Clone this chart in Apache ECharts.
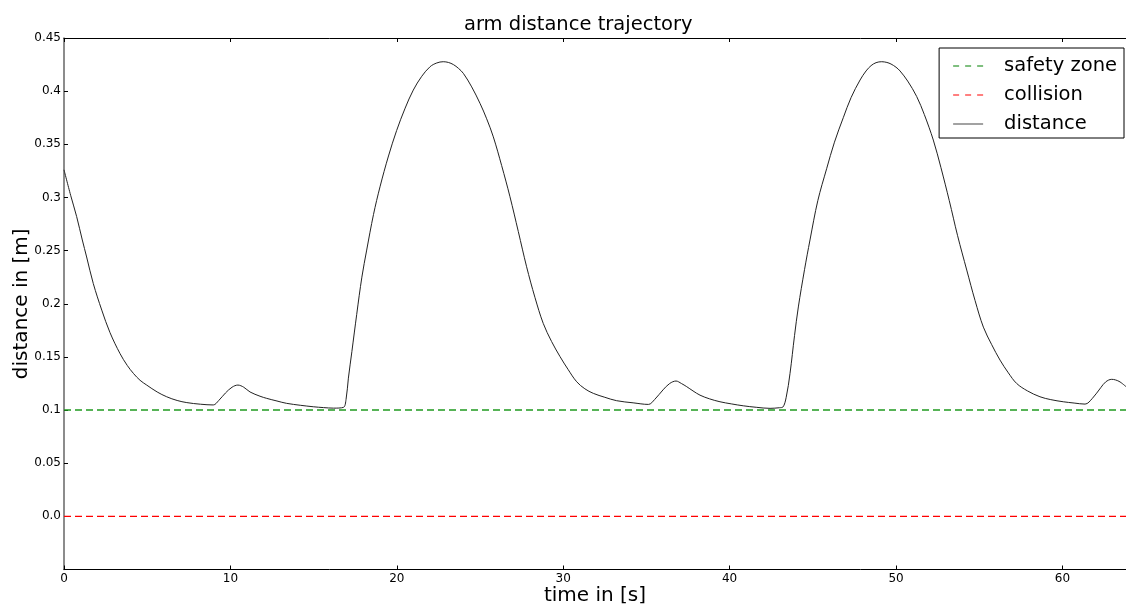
<!DOCTYPE html>
<html>
<head>
<meta charset="utf-8">
<script src="https://cdn.jsdelivr.net/npm/echarts@6/dist/echarts.min.js"></script>
<style>
html,body{margin:0;padding:0;background:#fff;}
#chart{width:1126px;height:606px;}
</style>
</head>
<body>
<div id="chart"></div>
<script>
// ---- data ----
const timeValues = [
  0, 0.4, 0.76, 1.1, 1.36, 1.76, 2.27, 2.76, 3.37, 3.8, 4.17, 4.57, 4.97, 5.6, 6.17, 6.8, 7.38, 8.2, 8.97,
  9.3, 9.7, 10.1, 10.45, 10.8, 11.18, 11.78, 12.18, 12.8, 13.38, 14.2, 14.98, 15.6, 16.2, 16.79, 16.95, 17.09, 17.3, 17.59,
  17.9, 18.19, 18.6, 18.99, 19.5, 19.99, 20.5, 20.99, 21.5, 22.0, 22.4, 22.79, 23.1, 23.4, 23.7, 24.0, 24.5, 25.0,
  25.4, 25.8, 26.3, 26.8, 27.3, 27.8, 28.3, 28.8, 29.3, 29.8, 30.3, 30.81, 31.3, 31.81, 32.5, 33.21, 34.2, 35.12,
  35.5, 36.0, 36.4, 36.78, 37.1, 37.42, 37.8, 38.22, 38.8, 39.42, 40.1, 40.82, 41.6, 42.43, 43.0, 43.2, 43.4, 43.63,
  43.9, 44.13, 44.5, 44.83, 45.3, 45.83, 46.3, 46.83, 47.3, 47.84, 48.2, 48.5, 48.8, 49.14, 49.45, 49.7, 50.0, 50.24,
  50.7, 51.24, 51.7, 52.24, 52.7, 53.2, 53.7, 54.25, 54.75, 55.25, 55.75, 56.25, 56.75, 57.25, 57.9, 58.65, 59.3,
  60.05, 60.7, 61.36, 61.8, 62.3, 62.6, 62.96, 63.4, 63.82];
const distanceValues = [
  0.326, 0.302, 0.282, 0.260, 0.244, 0.219, 0.194, 0.173, 0.153, 0.142, 0.1345, 0.128, 0.1235, 0.117, 0.1125, 0.109, 0.107, 0.1055, 0.1048,
  0.109, 0.116, 0.1215, 0.1235, 0.1215, 0.117, 0.113, 0.111, 0.1085, 0.1063, 0.1045, 0.1031, 0.1023, 0.1018, 0.1025, 0.110, 0.13, 0.155, 0.19,
  0.225, 0.2505, 0.284, 0.31, 0.339, 0.363, 0.384, 0.401, 0.414, 0.423, 0.4265, 0.4277, 0.427, 0.425, 0.4215, 0.4167, 0.404, 0.3885,
  0.374, 0.357, 0.330, 0.3007, 0.268, 0.2348, 0.206, 0.1815, 0.1645, 0.1505, 0.138, 0.1266, 0.120, 0.1157, 0.112, 0.1088, 0.1068, 0.1053,
  0.110, 0.119, 0.125, 0.1273, 0.125, 0.122, 0.118, 0.114, 0.1105, 0.1078, 0.1058, 0.104, 0.1026, 0.1016, 0.1022, 0.1028, 0.112, 0.1345,
  0.17, 0.197, 0.232, 0.26, 0.297, 0.327, 0.352, 0.375, 0.394, 0.4105, 0.419, 0.424, 0.4268, 0.4277, 0.427, 0.4255, 0.4225, 0.419,
  0.4095, 0.395, 0.378, 0.354, 0.328, 0.297, 0.264, 0.2317, 0.203, 0.178, 0.1615, 0.147, 0.135, 0.125, 0.118, 0.1125, 0.1098,
  0.1078, 0.1066, 0.1056, 0.111, 0.121, 0.1265, 0.1289, 0.127, 0.122];
const safetyLevel = [0.1, 0.1];
const collisionLevel = [0.0, 0.0];
const xExtent = [0, 63.82];
const yExtent = [-0.05, 0.45];
const seriesNames = ['safety zone', 'collision', 'distance'];
const titleText = 'arm distance trajectory';
const xAxisTitle = 'time in [s]';
const yAxisTitle = 'distance in [m]';

const FONT = 'DejaVu Sans';
const GREEN = '#1f9a1f', RED = '#ff0000', DARK = '#222';
const distanceData = timeValues.map((t, i) => [t, distanceValues[i]]);
const safetyData = xExtent.map((t, i) => [t, safetyLevel[i]]);
const collisionData = xExtent.map((t, i) => [t, collisionLevel[i]]);

const DASH_ICON = 'path://M0,0H6V1H0Z M12,0H18V1H12Z M24,0H30V1H24Z';
const SOLID_ICON = 'path://M0,0H30V1H0Z';

const chart = echarts.init(document.getElementById('chart'));
chart.setOption({
  animation: false,
  backgroundColor: '#fff',
  title: {
    text: titleText, left: 459, top: 10,
    textStyle: {fontFamily: FONT, fontSize: 19.5, fontWeight: 'normal', color: '#000'}
  },
  grid: {left: 64, right: 0, top: 38, bottom: 36.5, containLabel: false, outerBoundsMode: 'none'},
  legend: {
    orient: 'vertical', right: 2, top: 48,
    data: [
      {name: seriesNames[0], icon: DASH_ICON, itemStyle: {color: '#008000', opacity: 1}},
      {name: seriesNames[1], icon: DASH_ICON, itemStyle: {color: RED, opacity: 1}},
      {name: seriesNames[2], icon: SOLID_ICON, itemStyle: {color: '#444', opacity: 1}}
    ],
    backgroundColor: '#fff',
    borderColor: '#000', borderWidth: 1,
    padding: [8, 7, 4, 14],
    itemWidth: 30, itemHeight: 1.2, itemGap: 9,
    textStyle: {fontFamily: FONT, fontSize: 19.5, color: '#000', padding: [0, 0, 0, 16]}
  },
  xAxis: [{
    type: 'value', min: xExtent[0], max: xExtent[1], interval: 10,
    name: xAxisTitle, nameLocation: 'middle', nameGap: 16, nameMoveOverlap: false,
    nameTextStyle: {fontFamily: FONT, fontSize: 20, color: '#000'},
    axisLine: {onZero: false, lineStyle: {color: '#000', width: 1}},
    axisTick: {inside: true, length: 4, lineStyle: {color: '#000'}},
    axisLabel: {fontFamily: FONT, fontSize: 12, color: '#000', margin: 3,
      formatter: v => (Math.abs(v % 10) < 1e-6 ? String(v) : '')},
    splitLine: {show: false}
  }, {
    type: 'value', position: 'top', min: xExtent[0], max: xExtent[1], interval: 10,
    axisLine: {show: true, onZero: false, lineStyle: {color: '#000', width: 1}},
    axisTick: {inside: true, length: 4, lineStyle: {color: '#000'}},
    axisLabel: {show: false},
    splitLine: {show: false}
  }],
  yAxis: {
    type: 'value', min: yExtent[0], max: yExtent[1], interval: 0.05,
    name: yAxisTitle, nameLocation: 'middle', nameGap: 32, nameRotate: 90, nameMoveOverlap: false,
    nameTextStyle: {fontFamily: FONT, fontSize: 20, color: '#000'},
    axisLine: {show: true, onZero: false, lineStyle: {color: '#666', width: 1.5}},
    axisTick: {show: true, inside: true, length: 4, lineStyle: {color: '#000'}},
    axisLabel: {fontFamily: FONT, fontSize: 12, color: '#000', margin: 3,
      formatter: v => {
        const r = Math.round(v * 100) / 100;
        if (r < -0.01) return '';
        if (r === 0) return '0.0';
        return String(r);
      }},
    splitLine: {show: false}
  },
  series: [{
    name: seriesNames[0], type: 'line', data: safetyData, showSymbol: false, symbol: 'none',
    lineStyle: {color: GREEN, width: 1.4, type: [7, 4]}, itemStyle: {color: GREEN}, z: 2
  }, {
    name: seriesNames[1], type: 'line', data: collisionData, showSymbol: false, symbol: 'none',
    lineStyle: {color: RED, width: 1.2, type: [7, 4]}, itemStyle: {color: RED}, z: 2
  }, {
    name: seriesNames[2], type: 'line', data: distanceData, showSymbol: false, symbol: 'none',
    smooth: 0.35,
    lineStyle: {color: DARK, width: 1}, itemStyle: {color: DARK}, z: 3
  }]
});
</script>
</body>
</html>
